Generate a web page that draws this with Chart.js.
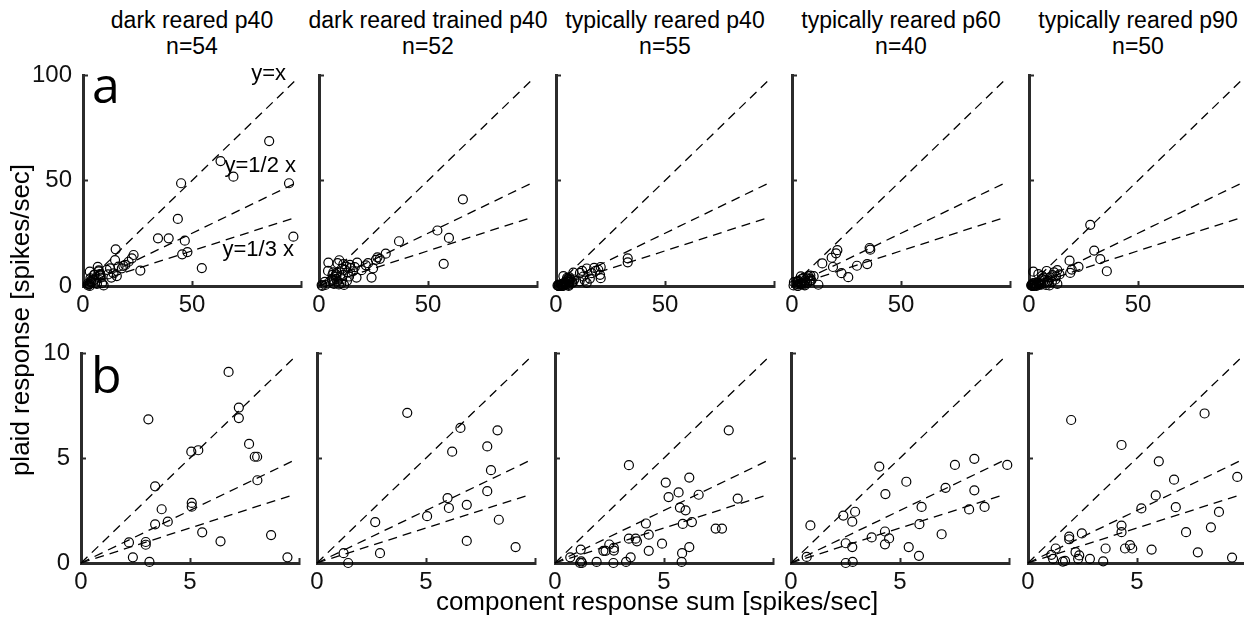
<!DOCTYPE html>
<html>
<head>
<meta charset="utf-8">
<script src="https://cdn.jsdelivr.net/npm/chart.js@4.4.1/dist/chart.umd.min.js"></script>
<style>
  body { margin: 0; width: 1244px; height: 628px; position: relative; overflow: hidden; background: #fff;
         font-family: "Liberation Sans", Arial, Helvetica, sans-serif; color: #000; }
  canvas { position: absolute; }
  .txt { position: absolute; white-space: nowrap; }
  .title { width: 300px; text-align: center; font-size: 23px; line-height: 26px; top: 7px; }
  .note { width: 200px; text-align: right; font-size: 22px; line-height: 22px; }
  .letter { font-family: "Open Sans", sans-serif; font-size: 50px; line-height: 50px; }
  .axtitle { font-size: 26px; line-height: 26px; text-align: center; }
</style>
</head>
<body>
<script>
var groupTitles = ['dark reared p40', 'dark reared trained p40', 'typically reared p40',
  'typically reared p60', 'typically reared p90'];
var groupCounts = [54, 52, 55, 40, 50];

// [component response sum, plaid response] per cell, spikes/sec
var darkP40 = [
  [6.77, 9.1], [7.24, 7.4], [7.24, 6.9], [3.09, 6.84], [7.71, 5.67], [7.97, 5.06], [8.08, 5.06],
  [5.06, 5.3], [5.38, 5.37], [3.4, 3.65], [8.09, 3.94], [5.08, 2.86], [5.08, 2.68], [3.7, 2.56],
  [3.4, 1.84], [3.98, 1.97], [5.56, 1.46], [6.4, 1.03], [8.72, 1.33], [2.2, 0.98], [2.97, 1.0],
  [2.97, 0.87], [2.38, 0.27], [3.14, 0.05], [9.47, 0.27],
  [85.4, 68.7], [63.1, 59.2], [69, 51.8], [94.5, 48.7], [45, 48.7], [96.5, 23.4], [43.5, 31.8],
  [34.4, 22.6], [39.3, 22.6], [46.7, 21.5], [45.5, 15], [47.9, 16.1], [54.5, 8.5], [26.3, 7.3],
  [15, 17.4], [14.7, 12.3], [23.2, 14.7], [22.4, 13.1], [20.9, 11.5], [19.4, 10], [17.8, 8.4],
  [16.3, 9.2], [14, 6], [15.5, 4.7], [12.4, 8.4], [10.9, 7.6], [11.5, 5.5], [13, 4], [18.5, 9.5]
];
var darkTrainedP40 = [
  [4.14, 7.15], [6.58, 6.43], [8.28, 6.32], [7.81, 5.55], [6.2, 5.3], [7.98, 4.42], [7.81, 3.42],
  [5.99, 3.09], [6.05, 2.62], [6.87, 2.77], [5.05, 2.23], [8.34, 2.06], [2.67, 1.95], [6.87, 1.05],
  [9.11, 0.76], [2.89, 0.47], [1.22, 0.47], [1.43, 0.0],
  [66, 41.1], [54.3, 26.3], [59.6, 22.8], [57.2, 10.5], [36.7, 21.2], [30.6, 15.3], [27.9, 12.9],
  [26.1, 12.4], [26.8, 13.6], [24.8, 8.4], [24.1, 4], [17.2, 4], [17.5, 11.1], [14.2, 10],
  [14.5, 8.6], [11.9, 7.6], [8.5, 10.8], [4.3, 11.1], [12.6, 9.2], [11, 5.2], [13.2, 6.4],
  [10.6, 3.2], [15.6, 7], [10.2, 1.2], [11.5, 0.5], [12.8, 2.4], [16.4, 8.9], [19.5, 7.5],
  [21.5, 9.8], [10.5, 8.2], [13.8, 4.5], [11.2, 10.4], [9.3, 12.2], [22.5, 10.8]
];
var typicalP40 = [
  [7.97, 6.32], [3.39, 4.66], [6.16, 4.07], [5.08, 3.83], [5.67, 3.36], [6.59, 3.25], [5.21, 3.14],
  [8.38, 3.07], [5.73, 2.64], [5.99, 2.51], [4.17, 1.88], [6.28, 1.95], [5.86, 1.86], [7.37, 1.64],
  [7.66, 1.64], [4.3, 1.35], [3.39, 1.16], [3.7, 1.16], [3.76, 1.03], [2.49, 0.88], [2.7, 0.72],
  [2.7, 0.59], [2.22, 0.58], [2.32, 0.58], [4.91, 0.92], [4.3, 0.58], [6.16, 0.76], [5.83, 0.47],
  [3.47, 0.27], [0.7, 0.27], [1.18, 0.64], [1.15, 0], [1.24, 0], [1.2, 0.08], [1.91, 0.05],
  [2.68, 0], [3.26, 0.05], [5.81, 0.05],
  [32.9, 13.1], [32.9, 11.2], [20.5, 9], [20.5, 3.7], [20.2, 5.3], [19.4, 7.7], [14.1, 1.5],
  [14.1, 8.3], [16.4, 6.1], [12.5, 4.5], [11, 6.2], [17.5, 8.6], [13.2, 2.6], [15.5, 3.5],
  [10.8, 2.2], [18.2, 7.2], [12, 7.2]
];
var typicalP60 = [
  [8.41, 4.96], [7.52, 4.67], [9.92, 4.67], [4.05, 4.59], [5.29, 3.87], [4.33, 3.28], [7.09, 3.58],
  [8.41, 3.46], [5.99, 2.67], [8.17, 2.55], [8.88, 2.67], [2.94, 2.44], [2.4, 2.26], [2.81, 1.97],
  [5.89, 1.85], [0.89, 1.79], [6.91, 1.37], [4.31, 1.5], [3.7, 1.22], [4.5, 1.17], [4.31, 0.89],
  [2.51, 0.94], [2.81, 0.76], [5.4, 0.76], [5.87, 0.34], [0.72, 0.29], [2.51, 0], [2.83, 0.05],
  [35.6, 18], [35.9, 17.2], [34.5, 10.4], [29.8, 9.6], [25.8, 4.2], [22.7, 6.1], [20.8, 17],
  [20.2, 15.5], [18.2, 13.4], [18.8, 9], [13.9, 10.7], [12.1, 0.6]
];
var typicalP90 = [
  [1.98, 6.81], [8.1, 7.12], [4.29, 5.62], [6.0, 4.84], [9.6, 4.1], [6.7, 3.97], [5.86, 3.22],
  [5.2, 2.6], [6.78, 2.66], [8.76, 2.43], [8.39, 1.7], [7.25, 1.47], [4.29, 1.78], [4.29, 1.47],
  [2.47, 1.41], [1.89, 1.26], [1.89, 1.13], [1.27, 0.69], [1.07, 0.39], [1.15, 0.2], [2.18, 0.52],
  [2.35, 0.36], [2.3, 0.2], [2.84, 0.2], [3.56, 0.69], [3.45, 0.08], [4.45, 0.69], [4.68, 0.85],
  [4.78, 0.69], [5.67, 0.64], [7.79, 0.51], [9.36, 0.26], [1.6, 0.07], [1.7, 0.1],
  [28.1, 29], [29.9, 16.8], [32.7, 12.7], [35.7, 7], [22.7, 9.1], [18.6, 12], [18.9, 6.2],
  [19.6, 7.8], [13, 7.5], [14, 5.5], [12, 3], [11.5, 6.5], [10.5, 2], [13, 1], [12.4, 4.6], [10.8, 5.2]
];
var groups = [darkP40, darkTrainedP40, typicalP40, typicalP60, typicalP90];

var refSlopes = [1, 1 / 2, 1 / 3];
var refLabels = ['y=x', 'y=1/2 x', 'y=1/3 x'];
var topTicks = [0, 50, 100];
var bottomTicks = [0, 5, 10];

// plot area placement (px) for the two rows
var topLefts = [83, 319, 556, 792, 1029];
var bottomLefts = [81, 317, 555, 791, 1028];
var plotW = 218;
var rows = [
  { lefts: topLefts, top: 75, bottom: 286, ticks: topTicks, lineEnd: 98 },
  { lefts: bottomLefts, top: 353, bottom: 563, ticks: bottomTicks, lineEnd: 9.8 }
];
var padL = 60, padT = 15, padR = 15, padB = 45;

function addText(cls, html, css) {
  var d = document.createElement('div');
  d.className = 'txt ' + cls;
  d.innerHTML = html;
  for (var k in css) d.style[k] = css[k];
  document.body.appendChild(d);
  return d;
}

function zeroPad(scale) {
  scale.paddingLeft = scale.paddingRight = scale.paddingTop = scale.paddingBottom = 0;
}

function axisOptions(ticks, isX, showLabels) {
  var max = ticks[ticks.length - 1];
  return {
    type: 'linear',
    min: 0,
    max: max,
    afterBuildTicks: function(s) {
      s.ticks = ticks.map(function(v) { return { value: v }; });
    },
    afterFit: function(s) {
      if (isX) { s.height = padB; } else { s.width = padL; }
      zeroPad(s);
    },
    border: { display: true, color: '#2b2b2b', width: 3 },
    grid: { display: true, drawOnChartArea: false, drawTicks: true, tickLength: -5, tickWidth: 2, tickColor: '#2b2b2b' },
    ticks: {
      display: showLabels,
      color: '#111',
      padding: isX ? 10 : 16,
      font: { family: '"Liberation Sans", Arial, sans-serif', size: 24, lineHeight: 1.2 },
      // the last x tick is drawn but not labelled
      callback: function(v) { return (isX && v === max) ? '' : String(v); }
    }
  };
}

function makePanel(points, row, col) {
  var left = row.lefts[col], h = row.bottom - row.top;
  var canvas = document.createElement('canvas');
  canvas.width = padL + plotW + padR;
  canvas.height = padT + h + padB;
  canvas.style.left = (left - padL) + 'px';
  canvas.style.top = (row.top - padT) + 'px';
  document.body.appendChild(canvas);

  var max = row.ticks[row.ticks.length - 1];
  var shown = points.filter(function(p) { return p[0] <= max && p[1] <= max; })
    .map(function(p) { return { x: p[0], y: p[1] }; });

  var datasets = refSlopes.map(function(s) {
    return {
      type: 'line',
      data: [{ x: 0, y: 0 }, { x: row.lineEnd, y: row.lineEnd * s }],
      borderColor: '#000', borderWidth: 1.3, borderDash: [9, 6],
      pointRadius: 0, fill: false, clip: false
    };
  });
  datasets.push({
    type: 'scatter',
    data: shown,
    pointStyle: 'circle', pointRadius: 4.5, borderWidth: 1.2,
    borderColor: '#000', backgroundColor: 'rgba(0,0,0,0)', clip: false
  });

  return new Chart(canvas, {
    type: 'scatter',
    data: { datasets: datasets },
    options: {
      responsive: false,
      animation: false,
      events: [],
      layout: { padding: { left: 0, top: padT, right: padR, bottom: 0 } },
      plugins: { legend: { display: false }, tooltip: { enabled: false } },
      scales: {
        x: axisOptions(row.ticks, true, true),
        y: axisOptions(row.ticks, false, col === 0)
      }
    }
  });
}

rows.forEach(function(row) {
  groups.forEach(function(g, i) { makePanel(g, row, i); });
});

// panel titles
groupTitles.forEach(function(t, i) {
  var cx = topLefts[i] + plotW / 2;
  addText('title', t + '<br>n=' + groupCounts[i], { left: (cx - 150) + 'px' });
});

// reference line labels in the first panel
var noteRight = [286, 296, 294];
var noteTop = [62, 154, 238];
refLabels.forEach(function(t, i) {
  addText('note', t, { left: (noteRight[i] - 200) + 'px', top: noteTop[i] + 'px' });
});

addText('letter', 'a', { left: '92px', top: '59px' });
addText('letter', 'b', { left: '91px', top: '349px' });

addText('axtitle', 'component response sum [spikes/sec]', { left: '357px', top: '588px', width: '600px' });
addText('axtitle', 'plaid response [spikes/sec]',
  { left: '-180px', top: '307px', width: '400px', transform: 'rotate(-90deg)' });
</script>
</body>
</html>
